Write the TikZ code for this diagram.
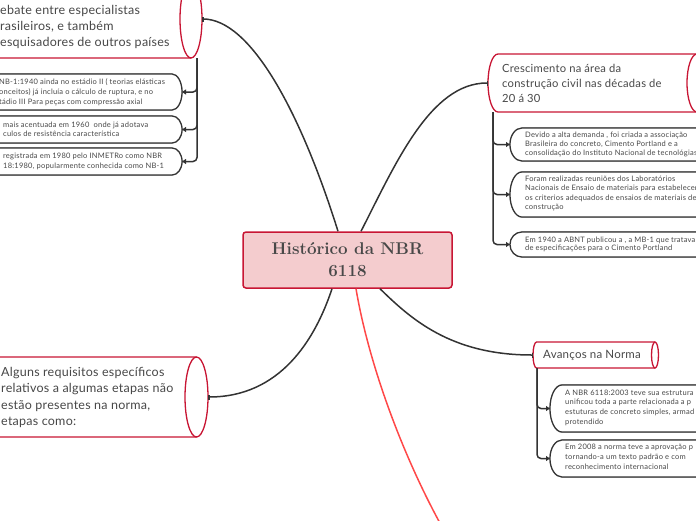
\documentclass[tikz,border=0pt]{standalone}
\usepackage{fontspec}
\setsansfont{Lato}
\newfontfamily\topicfont[LetterSpace=2]{Lato}
\newfontfamily\subfont[LetterSpace=3]{Lato}
\usetikzlibrary{arrows.meta,calc}
\definecolor{crim}{RGB}{200,22,52}
\definecolor{pinkf}{RGB}{244,204,206}
\definecolor{ink}{RGB}{72,72,72}
\definecolor{conncol}{RGB}{51,51,51}
\definecolor{redl}{RGB}{255,72,72}
\newcommand\topicshape[3]{%
  \fill[white] (#1.north east) -- (#1.north west) arc[start angle=90,end angle=270,x radius=#2pt,y radius=#3pt] -- (#1.south east) -- cycle;
  \draw[topicline] (#1.north east) -- (#1.north west) arc[start angle=90,end angle=270,x radius=#2pt,y radius=#3pt] -- (#1.south east);
  \draw[topicline,fill=white] (#1.east) ellipse[x radius=#2pt,y radius=#3pt];}
\newcommand\subshapeR[3]{%
  \begin{scope}[yshift=-1.8pt]
  \draw[shadowline] (#1.north east) -- (#1.north west) arc[start angle=90,end angle=270,x radius=#2pt,y radius=#3pt] -- (#1.south east);
  \end{scope}
  \fill[white] (#1.north east) -- (#1.north west) arc[start angle=90,end angle=270,x radius=#2pt,y radius=#3pt] -- (#1.south east) -- cycle;
  \draw[subline] (#1.north east) -- (#1.north west) arc[start angle=90,end angle=270,x radius=#2pt,y radius=#3pt] -- (#1.south east);}
\newcommand\subshapeL[3]{%
  \begin{scope}[yshift=-1.8pt]
  \draw[shadowline] (#1.north west) -- (#1.north east) arc[start angle=90,end angle=-90,x radius=#2pt,y radius=#3pt] -- (#1.south west);
  \end{scope}
  \fill[white] (#1.north west) -- (#1.north east) arc[start angle=90,end angle=-90,x radius=#2pt,y radius=#3pt] -- (#1.south west) -- cycle;
  \draw[subline] (#1.north west) -- (#1.north east) arc[start angle=90,end angle=-90,x radius=#2pt,y radius=#3pt] -- (#1.south west);}
\begin{document}
\begin{tikzpicture}[x=1pt,y=-1pt,
  central/.style={draw=crim, fill=pinkf, line width=1.5pt, rounded corners=3pt, minimum width=209pt, minimum height=56pt, inner sep=0pt,
    font=\bfseries\fontsize{17}{22}\selectfont, text=ink, align=center},
  body/.style={inner sep=0pt, outer sep=0pt},
  topicline/.style={draw=crim, line width=1.3pt},
  subline/.style={draw=conncol, line width=1.2pt},
  shadowline/.style={draw=black!45, line width=1.4pt},
  ttext/.style={font=\topicfont\fontsize{12.5}{16}\selectfont, text=ink, align=left, inner sep=0pt, anchor=west},
  ctext/.style={font=\topicfont\fontsize{11.2}{15}\selectfont, text=ink, align=left, inner sep=0pt, anchor=west},
  stext/.style={font=\subfont\fontsize{7.5}{9.5}\selectfont, text=ink, align=left, inner sep=0pt, anchor=west},
  conn/.style={draw=conncol, line width=1.5pt},
  branch/.style={draw=conncol, line width=1.5pt, rounded corners=4pt, -{Triangle[length=4pt,width=5pt]}},
  redconn/.style={draw=redl, line width=1.5pt}
]
\useasboundingbox (0,0) rectangle (696,520);
\clip (0,0) rectangle (696,520);

% central topic
\node[central] (c) at (347.5,260) {Histórico da NBR\\6118};

% topic bodies
\node[body, minimum width=251pt, minimum height=78pt] (t1) at (65.5,19) {};
\node[body, minimum width=256.5pt, minimum height=80pt] (al) at (68.25,397) {};
\node[body, minimum width=199pt, minimum height=58pt] (cres) at (597.5,83) {};
\node[body, minimum width=118.5pt, minimum height=26pt] (av) at (595.75,355) {};

% subtopic bodies
\node[body, minimum width=232pt, minimum height=36pt] (s1) at (56,92) {};
\node[body, minimum width=232pt, minimum height=27pt] (s2) at (56,129.5) {};
\node[body, minimum width=232pt, minimum height=27pt] (s3) at (56,161.5) {};
\node[body, minimum width=238pt, minimum height=33pt] (r1) at (641,144.5) {};
\node[body, minimum width=238pt, minimum height=45pt] (r2) at (641,194.5) {};
\node[body, minimum width=238pt, minimum height=25pt] (r3) at (641,244.5) {};
\node[body, minimum width=198pt, minimum height=47pt] (a1) at (661,408.5) {};
\node[body, minimum width=198pt, minimum height=37pt] (a2) at (661,458.5) {};

% shapes
\topicshape{t1}{11}{39}
\topicshape{al}{11.5}{40}
\topicshape{cres}{10}{29}
\topicshape{av}{3.5}{13}
\subshapeL{s1}{10}{18}
\subshapeL{s2}{10}{13.5}
\subshapeL{s3}{10}{13.5}
\subshapeR{r1}{12}{16.5}
\subshapeR{r2}{12}{22.5}
\subshapeR{r3}{12}{12.5}
\subshapeR{a1}{12}{23.5}
\subshapeR{a2}{12}{18.5}

% connectors from central topic
\draw[conn,-{Bar[width=5pt]}] ($(c.north)+(-9.5,0)$) .. controls (300,110) and (250,19) .. ($(t1.east)+(11,0)$);
\draw[conn,-{Bar[width=5pt]}] ($(c.north)+(13.5,0)$) .. controls (395,165) and (430,83) .. ($(cres.west)+(-10,0)$);
\draw[conn,-{Bar[width=5pt]}] ($(c.south)+(32.5,0)$) .. controls (410,318) and (450,355) .. ($(av.west)+(-3.5,0)$);
\draw[conn,-{Bar[width=5pt]}] ($(c.south)+(-15.5,0)$) .. controls (315,340) and (280,397) .. ($(al.east)+(11.5,0)$);
\coordinate (redend) at (441,525);
\draw[redconn] ($(c.south)+(8.5,0)$) .. controls (368,360) and (400,450) .. (redend);

% branches
\draw[branch] ($(t1.south east)+(6,0)$) |- ($(s1.east)+(10,0)$);
\draw[branch] ($(t1.south east)+(6,0)$) |- ($(s2.east)+(10,0)$);
\draw[branch] ($(t1.south east)+(6,0)$) |- ($(s3.east)+(10,0)$);
\draw[branch] ($(cres.south west)+(-5,0)$) |- ($(r1.west)+(-12,0)$);
\draw[branch] ($(cres.south west)+(-5,0)$) |- ($(r2.west)+(-12,0)$);
\draw[branch] ($(cres.south west)+(-5,0)$) |- ($(r3.west)+(-12,0)$);
\draw[branch] ($(av.south west)+(0.5,0)$) |- ($(a1.west)+(-12,0)$);
\draw[branch] ($(av.south west)+(0.5,0)$) |- ($(a2.west)+(-12,0)$);

% texts
\node[ttext] (t1txt) at (0,26.8) {ebate entre especialistas\\rasileiros, e também\\esquisadores de outros países};
\node[ttext, font=\topicfont\fontsize{12.5}{16.3}\selectfont] (altxt) at (1,397.5) {Alguns requisitos específicos\\relativos a algumas etapas não\\estão presentes na norma,\\etapas como:};
\node[ctext] (crestxt) at (502,83) {Crescimento na área da\\construção civil nas décadas de\\20 á 30};
\node[ttext, font=\topicfont\fontsize{11.5}{15}\selectfont] (avtxt) at (543,355) {Avanços na Norma};

\node[stext, font=\subfont\fontsize{7.5}{10}\selectfont] (s1txt) at (-1,92) {NB-1:1940 ainda no estádio II ( teorias elásticas\\onceitos) já incluía o cálculo de ruptura, e no\\tádio III Para peças com compressão axial};
\node[stext] (s2txt) at (3,129.5) {mais acentuada em 1960~ onde já adotava\\culos de resistência característica};
\node[stext] (s3txt) at (3,161.5) {registrada em 1980 pelo INMETRo como NBR\\18:1980, popularmente conhecida como NB-1};

\node[stext, font=\subfont\fontsize{7.5}{8.7}\selectfont] (r1txt) at (525,144.5) {Devido a alta demanda , foi criada a associação\\Brasileira do concreto, Cimento Portland e a\\consolidação do Instituto Nacional de tecnológias};
\node[stext, font=\subfont\fontsize{7.5}{9.3}\selectfont] (r2txt) at (525,193.5) {Foram realizadas reuniões dos Laboratórios\\Nacionais de Ensaio de materiais para estabelecer\\os criterios adequados de ensaios de materiais de\\construção};
\node[stext, font=\subfont\fontsize{7.5}{8.7}\selectfont] (r3txt) at (525,244.5) {Em 1940 a ABNT publicou a , a MB-1 que tratava\\de especificações para o Cimento Portland};
\node[stext, font=\subfont\fontsize{7.5}{9.7}\selectfont] (a1txt) at (565,407.5) {A NBR 6118:2003 teve sua estrutura\\unificou toda a parte relacionada a p\\estuturas de concreto simples, armad\\protendido};
\node[stext, font=\subfont\fontsize{7.5}{10}\selectfont] (a2txt) at (565,457) {Em 2008 a norma teve a aprovação p\\tornando-a um texto padrão e com\\reconhecimento internacional};
\end{tikzpicture}
\end{document}
